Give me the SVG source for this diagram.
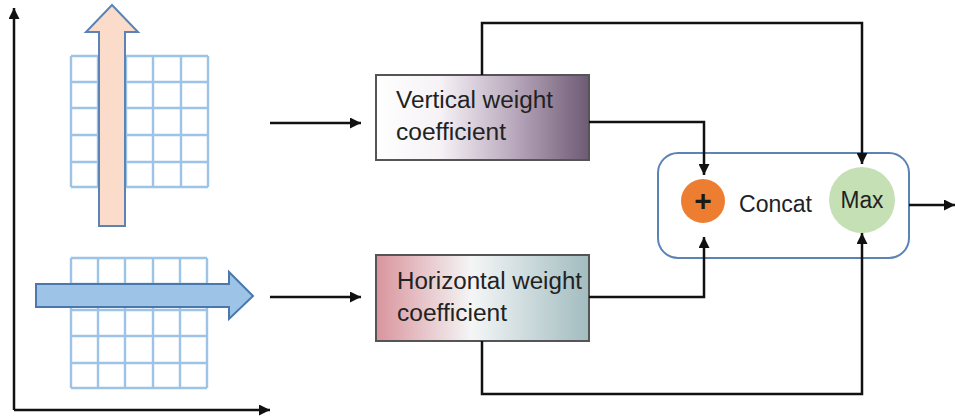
<svg xmlns="http://www.w3.org/2000/svg" width="955" height="419" viewBox="0 0 955 419">
  <defs>
    <marker id="head" viewBox="0 0 10 10" refX="10" refY="5" markerWidth="4.4" markerHeight="4.4" orient="auto" markerUnits="strokeWidth">
      <path d="M0,0 L10,5 L0,10 Z" fill="#111"/>
    </marker>
    <linearGradient id="gradV" x1="0" y1="0" x2="1" y2="0">
      <stop offset="0" stop-color="#ffffff"/>
      <stop offset="0.3" stop-color="#f6f2f6"/>
      <stop offset="0.65" stop-color="#b8a8bc"/>
      <stop offset="1" stop-color="#6e5a74"/>
    </linearGradient>
    <linearGradient id="gradH" x1="0" y1="0" x2="1" y2="0">
      <stop offset="0" stop-color="#d9949d"/>
      <stop offset="0.45" stop-color="#f4f6f6"/>
      <stop offset="1" stop-color="#a2bcc0"/>
    </linearGradient>
  </defs>
  <style>
    .axis { stroke: #111; stroke-width: 2.5; fill: none; }
    .wire { stroke: #111; stroke-width: 2.5; fill: none; }
    .grid { stroke: #9dc3e6; stroke-width: 2.4; fill: none; }
    .box { stroke: #555; stroke-width: 2; }
    .label { font-family: "Liberation Sans", Arial, sans-serif; font-size: 23px; fill: #222; }
  </style>

  <!-- axes -->
  <g id="axes">
    <line class="axis" x1="14" y1="410" x2="14" y2="8" marker-end="url(#head)"/>
    <line class="axis" x1="14" y1="410" x2="270" y2="410" marker-end="url(#head)"/>
  </g>

  <!-- upper grid with vertical scan arrow -->
  <g id="grid-vertical">
    <path class="grid" d="M71,56 H208 M71,82 H208 M71,108 H208 M71,135 H208 M71,162 H208 M71,187 H208 M71,56 V187 M98,56 V187 M126,56 V187 M153,56 V187 M181,56 V187 M208,56 V187"/>
    <path d="M99,226 V32 H86 L112,5 L138,32 H125 V226 Z" fill="#fbdccb" stroke="#5b83b5" stroke-width="2"/>
  </g>

  <!-- lower grid with horizontal scan arrow -->
  <g id="grid-horizontal">
    <path class="grid" d="M71,258 H207 M71,284 H207 M71,310 H207 M71,336 H207 M71,363 H207 M71,388 H207 M71,258 V388 M98,258 V388 M125,258 V388 M153,258 V388 M180,258 V388 M207,258 V388"/>
    <path d="M36,284 H229 V272 L253,296 L229,319 V307 H36 Z" fill="#9dc3e6" stroke="#4a78ad" stroke-width="2"/>
  </g>

  <!-- vertical weight coefficient -->
  <g id="vertical-weight">
    <rect class="box" x="376" y="75" width="213" height="85" fill="url(#gradV)"/>
    <text class="label" x="396" y="108" textLength="157" lengthAdjust="spacingAndGlyphs">Vertical weight</text>
    <text class="label" x="396" y="140" textLength="110" lengthAdjust="spacingAndGlyphs">coefficient</text>
  </g>

  <!-- horizontal weight coefficient -->
  <g id="horizontal-weight">
    <rect class="box" x="376" y="255" width="213" height="86" fill="url(#gradH)"/>
    <text class="label" x="397" y="289" textLength="185" lengthAdjust="spacingAndGlyphs">Horizontal weight</text>
    <text class="label" x="397" y="321" textLength="110" lengthAdjust="spacingAndGlyphs">coefficient</text>
  </g>

  <!-- fusion block -->
  <g id="fusion">
    <rect x="658" y="153" width="251" height="105" rx="20" ry="20" fill="#ffffff" stroke="#5b83b5" stroke-width="2"/>
    <text class="label" x="739" y="212" textLength="73" lengthAdjust="spacingAndGlyphs">Concat</text>
  </g>

  <g id="add">
    <circle cx="703" cy="201" r="22" fill="#ed7d31"/>
    <text x="703" y="211" text-anchor="middle" font-family="Liberation Sans, Arial, sans-serif" font-size="30" font-weight="bold" fill="#1a1a1a">+</text>
  </g>

  <g id="max">
    <circle cx="862" cy="200" r="33" fill="#c5e0b4"/>
    <text class="label" x="840.5" y="208" textLength="43" lengthAdjust="spacingAndGlyphs">Max</text>
  </g>

  <!-- connectors -->
  <g id="connectors">
    <line class="wire" x1="270" y1="123" x2="361" y2="123" marker-end="url(#head)"/>
    <line class="wire" x1="270" y1="297" x2="361" y2="297" marker-end="url(#head)"/>
    <polyline class="wire" points="589,122 704,122 704,175" marker-end="url(#head)"/>
    <polyline class="wire" points="589,297 704,297 704,237" marker-end="url(#head)"/>
    <polyline class="wire" points="482,75 482,23 862,23 862,164" marker-end="url(#head)"/>
    <polyline class="wire" points="482,341 482,394 862,394 862,233" marker-end="url(#head)"/>
    <line class="wire" x1="909" y1="205" x2="955" y2="205" marker-end="url(#head)"/>
  </g>
</svg>
